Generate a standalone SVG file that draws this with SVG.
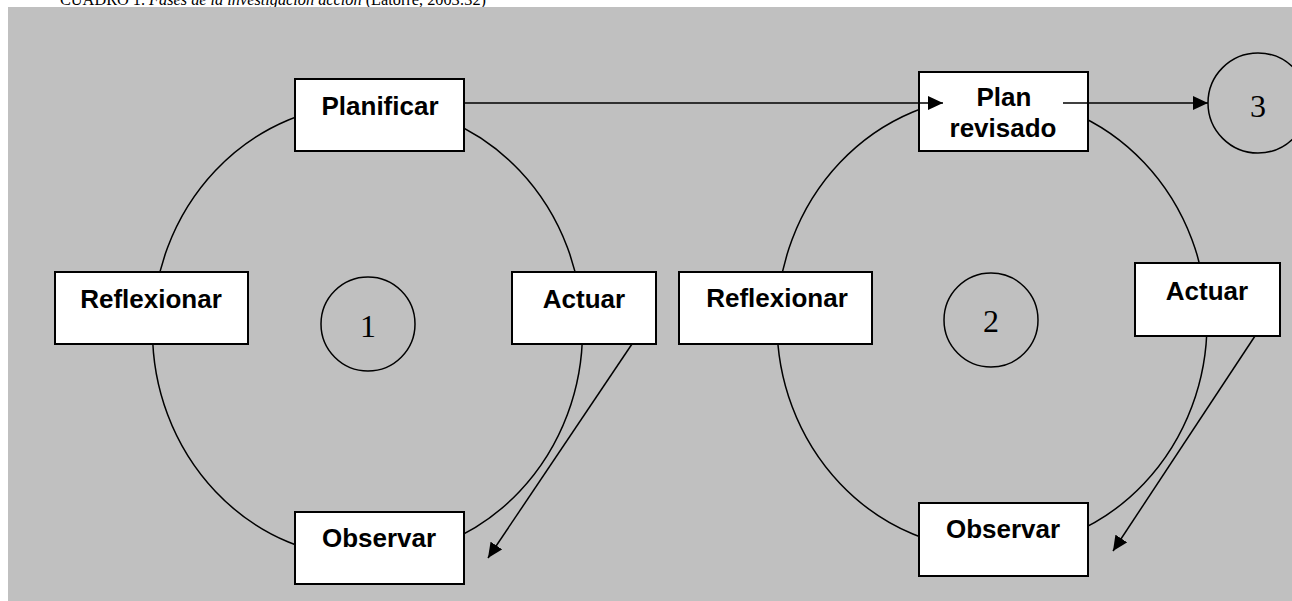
<svg xmlns="http://www.w3.org/2000/svg" width="1292" height="601" viewBox="0 0 1292 601">
<style>
.bg{fill:#c0c0c0}
.box{fill:#ffffff;stroke:#000;stroke-width:2}
.arc{fill:none;stroke:#000;stroke-width:1.5}
.lbl{font-family:"Liberation Sans",Arial,sans-serif;font-weight:bold;font-size:26px;fill:#000;text-anchor:middle}
.num{font-family:"Liberation Serif","Times New Roman",serif;font-size:32px;fill:#000;text-anchor:middle}
.cap{font-family:"Liberation Serif","Times New Roman",serif;font-size:16.3px;fill:#000}
.conn{fill:none;stroke:#000;stroke-width:1.5}
</style>
<defs>
<marker id="ah" markerUnits="userSpaceOnUse" markerWidth="16" markerHeight="14" refX="15" refY="7" orient="auto">
<path d="M0,0 L15,7 L0,14 z" fill="#000"/>
</marker>
</defs>
<rect width="1292" height="601" fill="#ffffff"/>
<text class="cap" x="60" y="5">CUADRO 1. <tspan font-style="italic">Fases de la investigación acción</tspan> (Latorre, 2003:32)</text>
<rect class="bg" x="8" y="7" width="1284" height="594"/>
<g id="cycles">
<ellipse class="arc" cx="367.5" cy="331" rx="215" ry="227"/>
<ellipse class="arc" cx="992" cy="323" rx="215" ry="227"/>
</g>
<g id="n-planificar"><rect class="box" x="295" y="79" width="169" height="72"/><text class="lbl" x="380" y="115">Planificar</text></g>
<g id="n-reflexionar1"><rect class="box" x="55" y="272" width="193" height="72"/><text class="lbl" x="151" y="308">Reflexionar</text></g>
<g id="n-actuar1"><rect class="box" x="512" y="272" width="144" height="72"/><text class="lbl" x="584" y="308">Actuar</text></g>
<g id="n-observar1"><rect class="box" x="295" y="512" width="169" height="72"/><text class="lbl" x="379" y="547">Observar</text></g>
<g id="n-c1"><circle class="arc" cx="368" cy="324" r="47"/><text class="num" x="368" y="337">1</text></g>
<g id="n-plan"><rect class="box" x="919" y="72" width="169" height="79"/><text class="lbl" x="1004" y="106">Plan</text><text class="lbl" x="1003" y="137">revisado</text></g>
<g id="n-reflexionar2"><rect class="box" x="679" y="272" width="193" height="72"/><text class="lbl" x="777" y="307">Reflexionar</text></g>
<g id="n-actuar2"><rect class="box" x="1135" y="263" width="145" height="73"/><text class="lbl" x="1207" y="300">Actuar</text></g>
<g id="n-observar2"><rect class="box" x="919" y="503" width="169" height="73"/><text class="lbl" x="1003" y="538">Observar</text></g>
<g id="n-c2"><circle class="arc" cx="991" cy="320" r="47"/><text class="num" x="991" y="332">2</text></g>
<g id="n-c3"><circle class="arc" cx="1258" cy="103" r="50"/><text class="num" x="1258" y="117">3</text></g>
<g id="connectors">
<line class="conn" x1="464" y1="103" x2="943" y2="103" marker-end="url(#ah)"/>
<line class="conn" x1="1063" y1="103" x2="1208" y2="103" marker-end="url(#ah)"/>
<line class="conn" x1="632" y1="344" x2="488" y2="558" marker-end="url(#ah)"/>
<line class="conn" x1="1255" y1="336" x2="1113" y2="551" marker-end="url(#ah)"/>
</g>
</svg>
